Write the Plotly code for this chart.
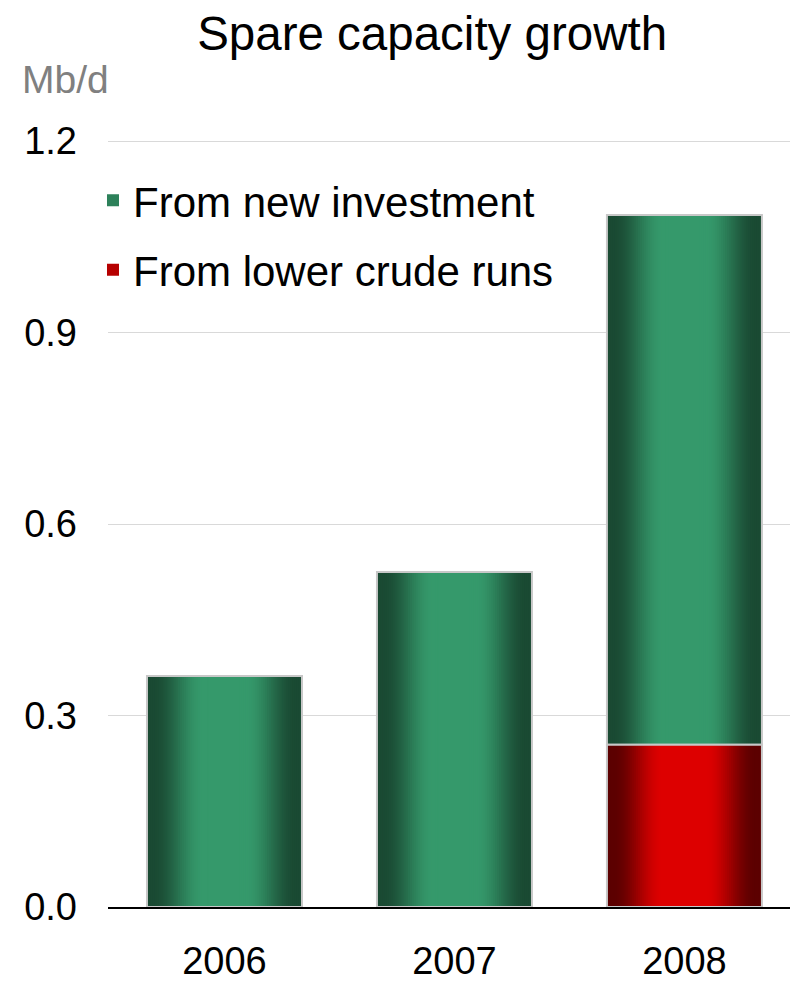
import plotly.graph_objects as go

# ---- data ----
years = ["2006", "2007", "2008"]
new_investment = [0.362, 0.525, 0.830]
lower_crude_runs = [None, None, 0.254]
series_names = ["From new investment", "From lower crude runs"]
y_ticks = [0.0, 0.3, 0.6, 0.9, 1.2]
y_tick_labels = ["0.0", "0.3", "0.6", "0.9", "1.2"]

# ---- style ----
FONT = "Liberation Sans, Arial, sans-serif"
GREEN_DARK, GREEN_LIGHT = (26, 74, 51), (53, 153, 107)
RED_DARK, RED_LIGHT = (92, 0, 0), (221, 0, 0)
FULL_W = 0.674
STEP = 0.0125
K = 33


def mix(c1, c2, t):
    return "rgb(%d,%d,%d)" % tuple(round(a + (b - a) * t) for a, b in zip(c1, c2))


def ease(s):
    t = min(1.0, max(0.0, (s - 0.04) / 0.32))
    return t * t * (3 - 2 * t)


green_base = [v if v is not None else 0 for v in lower_crude_runs]
red_base = [0, 0, 0]

fig = go.Figure()
for name, vals, base, dark, light in [
    (series_names[0], new_investment, green_base, GREEN_DARK, GREEN_LIGHT),
    (series_names[1], lower_crude_runs, red_base, RED_DARK, RED_LIGHT),
]:
    for k in range(K):
        s = k * STEP
        col = mix(dark, light, ease(s + STEP / 2))
        fig.add_bar(
            x=years, y=vals, base=base, width=FULL_W * (1 - 2 * s),
            marker=dict(color=col, line=dict(width=0)),
            name=name, legendgroup=name, showlegend=(k == 19),
            hoverinfo="skip",
        )
    fig.add_bar(
        x=years, y=vals, base=base, width=FULL_W,
        marker=dict(color="rgba(0,0,0,0)", line=dict(color="#c8c8c8", width=2)),
        name=name, legendgroup=name, showlegend=False, hoverinfo="skip",
    )

fig.update_layout(
    width=790, height=981,
    margin=dict(l=108, r=0, t=138, b=74),
    paper_bgcolor="white", plot_bgcolor="white",
    barmode="overlay",
    font=dict(family=FONT, color="black"),
    title=dict(text="Spare capacity growth", x=0.547, xanchor="center",
               y=1 - 33 / 981, yanchor="middle", font=dict(size=47.5, color="black")),
    legend=dict(x=-0.022, xanchor="left", y=0.963, yanchor="top",
                font=dict(size=42), traceorder="grouped", tracegroupgap=12,
                bgcolor="rgba(0,0,0,0)"),
    xaxis=dict(range=[-0.5065, 2.459], showgrid=False, showline=True,
               linecolor="black", linewidth=2, ticks="", tickfont=dict(size=38),
               ticklabelstandoff=19, fixedrange=True),
    yaxis=dict(range=[0, 1.2047], tickvals=y_ticks, ticktext=y_tick_labels,
               showgrid=True, gridcolor="#d9d9d9", gridwidth=1.3, zeroline=False,
               ticks="", tickfont=dict(size=38), ticklabelstandoff=30,
               showline=False, fixedrange=True),
    annotations=[dict(text="Mb/d", xref="paper", yref="paper", x=-0.129, xanchor="left",
                      y=(907 - 83) / 766, yanchor="middle", showarrow=False,
                      font=dict(size=39, color="#808080"))],
)

fig.write_html("out.html", config={"displayModeBar": False},
               post_script="document.body.style.margin='0';document.body.style.overflow='hidden';")
